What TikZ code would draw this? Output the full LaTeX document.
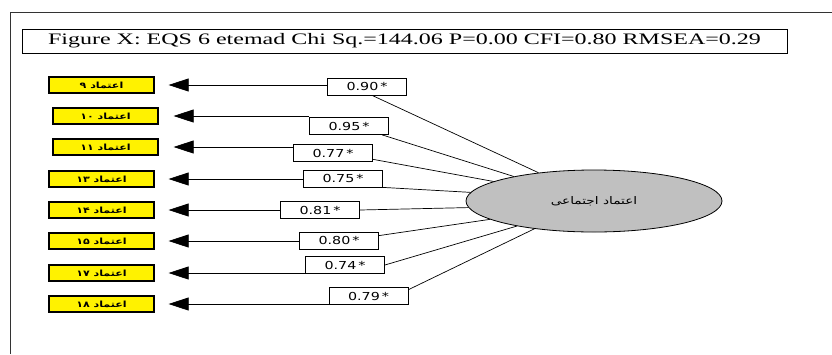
\documentclass[tikz,border=0pt]{standalone}
\usepackage{fontspec}
\usetikzlibrary{arrows.meta,shapes.geometric}
\setmainfont{Liberation Serif}
\newfontfamily\titlefont[FakeStretch=1.5]{Liberation Serif}
\newfontfamily\coeffont[FakeStretch=1.3]{DejaVu Sans}
\newfontfamily\arabicfont[Script=Arabic]{DejaVu Sans}
\newfontfamily\arabicwide[Script=Arabic,FakeStretch=1.3]{DejaVu Sans}
\TeXXeTstate=1
\definecolor{latgray}{RGB}{192,192,192}
\tikzset{
  ybox/.style={draw=black, line width=1.2pt, fill=yellow, minimum width=105pt, minimum height=16pt, inner sep=0pt, font=\arabicwide\bfseries\fontsize{8.5}{9}\selectfont},
  cbox/.style={draw=black, line width=0.8pt, fill=white, minimum width=79pt, minimum height=17pt, inner sep=0pt, font=\coeffont\fontsize{11}{12}\selectfont},
  latent/.style={ellipse, draw=black, line width=0.8pt, fill=latgray, minimum width=256pt, minimum height=62pt, inner sep=0pt, font=\arabicwide\fontsize{10.5}{11}\selectfont},
  conn/.style={line width=0.7pt},
  arr/.style={conn, -{Triangle[length=20pt,width=13pt]}},
  titlebox/.style={draw=black, line width=1pt, minimum width=765pt, minimum height=24pt, inner sep=0pt, font=\titlefont\fontsize{16}{18}\selectfont}
}
\begin{document}
\begin{tikzpicture}[x=1pt,y=-1pt]
\useasboundingbox (0,0) rectangle (832,354);
\draw[line width=1pt, draw=black!80] (10,354) -- (10,12) -- (832,12);
\node[titlebox] (title) at (404.5,41) {Figure X: EQS 6 etemad Chi Sq.=144.06 P=0.00 CFI=0.80 RMSEA=0.29};

\node[latent] (lat) at (594,201) {\beginR اعتماد اجتماعی\endR};

\node[ybox] (y1) at (101.5,85) {\beginR اعتماد ۹\endR};
\node[ybox] (y2) at (105.5,116) {\beginR اعتماد ۱۰\endR};
\node[ybox] (y3) at (105.5,147) {\beginR اعتماد ۱۱\endR};
\node[ybox] (y4) at (101.5,179) {\beginR اعتماد ۱۳\endR};
\node[ybox] (y5) at (101.5,210) {\beginR اعتماد ۱۴\endR};
\node[ybox] (y6) at (101.5,241) {\beginR اعتماد ۱۵\endR};
\node[ybox] (y7) at (101.5,273) {\beginR اعتماد ۱۷\endR};
\node[ybox] (y8) at (101.5,304) {\beginR اعتماد ۱۸\endR};

\node[cbox] (c1) at (367,86.5) {0.90\,*};
\node[cbox] (c2) at (349,126) {0.95\,*};
\node[cbox] (c3) at (333,153) {0.77\,*};
\node[cbox] (c4) at (343,178.5) {0.75\,*};
\node[cbox] (c5) at (320,210) {0.81\,*};
\node[cbox] (c6) at (339,240.5) {0.80\,*};
\node[cbox] (c7) at (345,265) {0.74\,*};
\node[cbox] (c8) at (368.5,296) {0.79\,*};

\draw[arr, shorten >=14pt] (c1.west |- y1.east) -- (y1.east);
\draw[arr, shorten >=15pt] (c2.west |- y2.east) -- (y2.east);
\draw[arr, shorten >=15pt] (c3.west |- y3.east) -- (y3.east);
\draw[arr, shorten >=14pt] (c4.west |- y4.east) -- (y4.east);
\draw[arr, shorten >=14pt] (c5.west |- y5.east) -- (y5.east);
\draw[arr, shorten >=14pt] (c6.west |- y6.east) -- (y6.east);
\draw[arr, shorten >=14pt] (c7.west |- y7.east) -- (y7.east);
\draw[arr, shorten >=14pt] (c8.west |- y8.east) -- (y8.east);

\draw[conn] (c1.-60) -- (lat.153);
\draw[conn] (c2.-15) -- (lat.163);
\draw[conn] (c3.-9) -- (lat.169);
\draw[conn] (c4.south east) -- (lat.176);
\draw[conn] (c5.east) -- (lat.183);
\draw[conn] (c6.7) -- (lat.190);
\draw[conn] (c7.east) -- (lat.198);
\draw[conn] (c8.9) -- (lat.205);
\end{tikzpicture}
\end{document}
